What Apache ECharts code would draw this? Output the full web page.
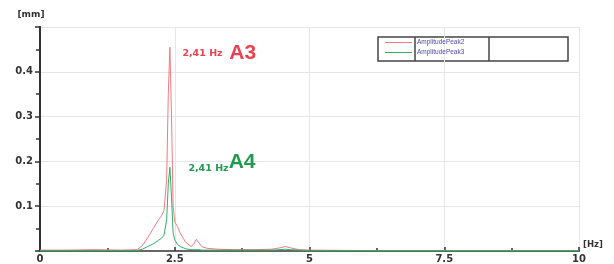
<!DOCTYPE html>
<html>
<head>
<meta charset="utf-8">
<script src="https://cdn.jsdelivr.net/npm/echarts@6/dist/echarts.min.js"></script>
<style>
  html, body { margin: 0; padding: 0; background: #fff; }
  #chart { width: 614px; height: 264px; }
</style>
</head>
<body>
<div id="chart"></div>
<script>
// frequency samples [Hz]
const freqs = [0, 0.5, 1.0, 1.5, 1.8, 1.9, 2.0, 2.1, 2.2, 2.25, 2.3, 2.35, 2.38, 2.41, 2.44, 2.47, 2.5, 2.55, 2.6, 2.7, 2.8, 2.85, 2.9, 2.95, 3.0, 3.1, 3.3, 3.6, 4.0, 4.3, 4.45, 4.55, 4.65, 4.8, 5.0, 6, 7, 8, 9, 10];
// amplitude [mm]
const peak2 = [0.002, 0.002, 0.003, 0.002, 0.003, 0.012, 0.03, 0.05, 0.07, 0.078, 0.09, 0.16, 0.35, 0.455, 0.3, 0.1, 0.065, 0.055, 0.04, 0.02, 0.01, 0.015, 0.026, 0.018, 0.01, 0.006, 0.004, 0.003, 0.003, 0.004, 0.007, 0.01, 0.007, 0.003, 0.002, 0.001, 0.001, 0.001, 0.001, 0.001];
const peak3 = [0.001, 0.001, 0.001, 0.001, 0.001, 0.004, 0.01, 0.016, 0.024, 0.028, 0.035, 0.07, 0.15, 0.187, 0.12, 0.04, 0.025, 0.015, 0.01, 0.005, 0.003, 0.003, 0.003, 0.003, 0.002, 0.002, 0.002, 0.002, 0.002, 0.002, 0.003, 0.004, 0.003, 0.002, 0.001, 0.001, 0.001, 0.001, 0.001, 0.001];
const seriesNames = ['AmplitudePeak2', 'AmplitudePeak3'];
const xTicks = [0, 2.5, 5, 7.5, 10];
const yTicks = [0.1, 0.2, 0.3, 0.4];
const peakFreq = 2.41;

const chart = echarts.init(document.getElementById('chart'));

const tickFont = { color: '#333', fontFamily: 'DejaVu Sans', fontWeight: 'bold', fontSize: 10 };

const pair = vals => freqs.map((f, i) => [f, vals[i]]);
const peakValue = vals => vals[freqs.indexOf(peakFreq)];

chart.setOption({
  animation: false,
  grid: { left: 40, right: 35, top: 27, bottom: 13 },
  legend: {
    data: seriesNames,
    orient: 'vertical',
    left: 385,
    top: 39,
    padding: 0,
    itemGap: 3,
    itemWidth: 27,
    itemHeight: 1,
    icon: 'rect',
    textStyle: { fontSize: 6.5, color: '#4a4aa8', fontFamily: 'Liberation Sans' }
  },
  graphic: [
    { type: 'rect', shape: { x: 378, y: 37, width: 190, height: 24 }, style: { fill: 'none', stroke: '#444', lineWidth: 1.5 } },
    { type: 'line', shape: { x1: 415, y1: 37, x2: 415, y2: 61 }, style: { stroke: '#444', lineWidth: 1.5 } },
    { type: 'line', shape: { x1: 489, y1: 37, x2: 489, y2: 61 }, style: { stroke: '#444', lineWidth: 1.5 } }
  ],
  xAxis: [
    {
      type: 'value', min: 0, max: 10, interval: 2.5,
      name: '[Hz]', nameLocation: 'end', nameGap: 4,
      nameTextStyle: { ...tickFont, fontSize: 8.5, verticalAlign: 'bottom', padding: [0, 0, 2, 0] },
      axisLine: { lineStyle: { color: '#333', width: 2 } },
      axisTick: { show: true, inside: true, length: 4, lineStyle: { color: '#333', width: 1.5 } },
      minorTick: { show: true, splitNumber: 2, length: 3, lineStyle: { color: '#333', width: 1.5 } },
      axisLabel: { ...tickFont, margin: 3, formatter: v => xTicks.includes(v) ? String(v) : '' },
      splitLine: { show: true, lineStyle: { color: '#e6e6e6' } }
    },
    {
      type: 'value', min: 0, max: 10, position: 'top',
      axisLine: { show: true, lineStyle: { color: '#777', width: 1.5 } },
      axisTick: { show: false }, axisLabel: { show: false }, splitLine: { show: false }
    }
  ],
  yAxis: [
    {
      type: 'value', min: 0, max: 0.5, interval: 0.1,
      name: '[mm]', nameLocation: 'end', nameGap: 8,
      nameTextStyle: { ...tickFont, fontSize: 9, align: 'center', padding: [0, 18, 0, 0] },
      axisLine: { show: true, lineStyle: { color: '#333', width: 2 } },
      axisTick: { show: true, length: 5, lineStyle: { color: '#333', width: 1.5 } },
      minorTick: { show: true, splitNumber: 2, length: 4, lineStyle: { color: '#333', width: 1.5 } },
      axisLabel: { ...tickFont, margin: 7, formatter: v => yTicks.some(t => Math.abs(t - v) < 1e-9) ? v.toFixed(1) : '' },
      splitLine: { show: true, lineStyle: { color: '#e6e6e6' } }
    },
    {
      type: 'value', min: 0, max: 0.5, position: 'right',
      axisLine: { show: true, lineStyle: { color: '#333', width: 2 } },
      axisTick: { show: false }, axisLabel: { show: false }, splitLine: { show: false }
    }
  ],
  series: [
    {
      name: seriesNames[0], type: 'line', data: pair(peak2),
      showSymbol: false, symbol: 'none',
      lineStyle: { color: '#f07a82', width: 1 }, itemStyle: { color: '#f07a82' },
      markPoint: {
        symbol: 'circle', symbolSize: 1, itemStyle: { color: 'transparent' },
        data: [{ coord: [peakFreq, peakValue(peak2)] }],
        label: {
          show: true, position: 'right', distance: 0, offset: [12, 6],
          formatter: '{s|2,41 Hz}  {b|A3}',
          rich: {
            s: { color: '#e8434f', fontSize: 9.5, fontWeight: 'bold', fontFamily: 'DejaVu Sans' },
            b: { color: '#e8434f', fontSize: 21, fontWeight: 'bold', fontFamily: 'Liberation Sans' }
          }
        }
      }
    },
    {
      name: seriesNames[1], type: 'line', data: pair(peak3),
      showSymbol: false, symbol: 'none',
      lineStyle: { color: '#2fae66', width: 1 }, itemStyle: { color: '#2fae66' },
      markPoint: {
        symbol: 'circle', symbolSize: 1, itemStyle: { color: 'transparent' },
        data: [{ coord: [peakFreq, peakValue(peak3)] }],
        label: {
          show: true, position: 'right', distance: 0, offset: [18, -5],
          formatter: '{s|2,41 Hz}{b|A4}',
          rich: {
            s: { color: '#1f9a50', fontSize: 9.5, fontWeight: 'bold', fontFamily: 'DejaVu Sans', verticalAlign: 'bottom', padding: [12, 0, 0, 0] },
            b: { color: '#1f9a50', fontSize: 21, fontWeight: 'bold', fontFamily: 'Liberation Sans' }
          }
        }
      }
    }
  ]
});
</script>
</body>
</html>
